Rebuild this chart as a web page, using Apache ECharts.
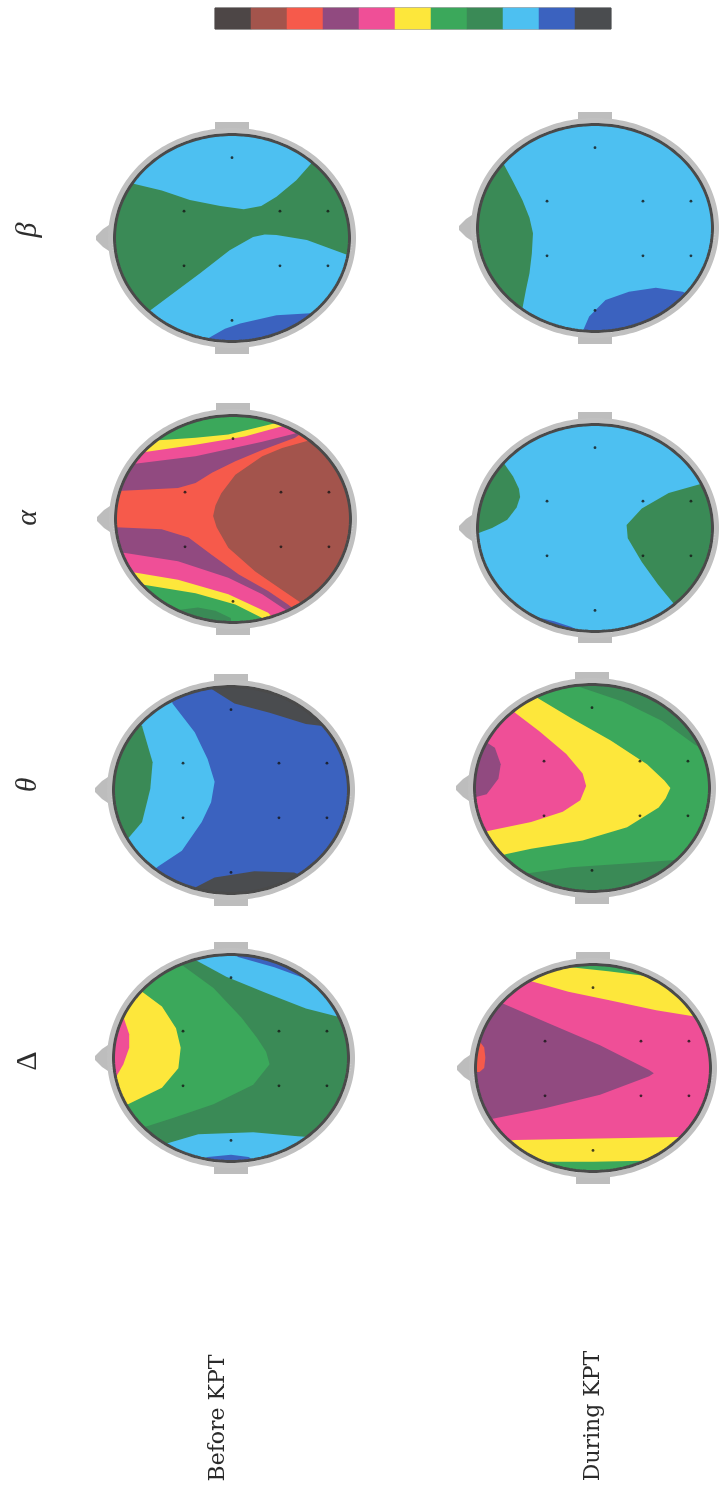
<!DOCTYPE html>
<html>
<head>
<meta charset="utf-8">
<script src="https://cdn.jsdelivr.net/npm/echarts@6/dist/echarts.min.js"></script>
<style>
html,body{margin:0;padding:0;background:#ffffff;}
#chart{width:720px;height:1495px;}
</style>
</head>
<body>
<div id="chart"></div>
<script>
// ---------- DATA ----------
// 11 colour levels of the scale bar (left -> right)
const levelColors = ['#4d4646','#a3544c','#f65a4b','#914a80','#ef4f97','#fde73b','#3ba85b','#3a8a56','#4dc0f1','#3b62bf','#4a4c4f'];
const scaleLevels = [0,1,2,3,4,5,6,7,8,9,10];
const bandSymbols = ['β','α','θ','Δ'];
const conditionLabels = ['Before KPT','During KPT'];
// electrode positions (head coordinates, -1..1)
const electrodeU = [0,-0.41,0.41,0.82,-0.41,0.41,0.82,0];
const electrodeV = [-0.78,-0.26,-0.26,-0.26,0.27,0.27,0.27,0.80];

// contour regions: [level, boundary points (u,v)], painted in order
const FULL = [[-1.2,-1.2],[1.2,-1.2],[1.2,1.2],[-1.2,1.2]];
const betaBefore = [
 [7, FULL],
 [8, [[-1.2,-1.2],[0.85,-1.2],[0.8,-0.95],[0.69,-0.74],[0.55,-0.56],[0.38,-0.40],[0.25,-0.31],[0.1,-0.28],[-0.1,-0.31],[-0.36,-0.37],[-0.6,-0.46],[-0.85,-0.53],[-1.2,-0.62]]],
 [8, [[-0.85,1.2],[-0.85,0.85],[-0.72,0.72],[-0.27,0.34],[-0.02,0.12],[0.18,-0.01],[0.28,-0.035],[0.38,-0.03],[0.64,0.02],[1.0,0.17],[1.2,0.24],[1.2,1.2]]],
 [9, [[-0.4,1.2],[-0.35,1.05],[-0.23,0.99],[-0.06,0.88],[0.07,0.83],[0.38,0.75],[0.67,0.73],[0.9,0.76],[0.9,1.2]]]
];
const betaDuring = [
 [8, FULL],
 [7, [[-1.2,-0.8],[-0.9,-0.8],[-0.79,-0.64],[-0.70,-0.45],[-0.62,-0.27],[-0.56,-0.1],[-0.53,0.05],[-0.54,0.25],[-0.56,0.44],[-0.59,0.6],[-0.62,0.78],[-0.7,0.95],[-1.2,0.95]]],
 [9, [[-0.15,1.2],[-0.15,1.08],[-0.1,0.99],[-0.05,0.86],[0.09,0.70],[0.29,0.62],[0.52,0.58],[0.75,0.62],[0.9,0.7],[0.9,1.2]]]
];
const alphaBefore = [
 [6, FULL],
 [5, [[-0.85,-0.85],[-0.70,-0.76],[-0.32,-0.79],[-0.04,-0.82],[0.36,-0.93],[0.45,-1.1],[1.2,-1.1],[1.2,1.2],[0.3,1.2],[0.25,0.96],[0.02,0.83],[-0.32,0.72],[-0.75,0.64],[-0.9,0.66],[-1.2,0.66],[-1.2,-0.85]]],
 [4, [[-0.95,-0.62],[-0.81,-0.64],[-0.32,-0.72],[0.10,-0.80],[0.42,-0.90],[0.5,-1.05],[1.2,-1.05],[1.2,1.2],[0.38,1.2],[0.38,1.0],[0.30,0.91],[-0.04,0.73],[-0.47,0.59],[-0.84,0.52],[-0.95,0.52],[-1.2,0.52],[-1.2,-0.62]]],
 [3, [[-1.0,-0.5],[-0.89,-0.53],[-0.32,-0.61],[0.25,-0.75],[0.53,-0.83],[0.62,-0.9],[1.2,-0.9],[1.2,1.2],[0.55,1.2],[0.5,0.92],[0.42,0.86],[0.25,0.73],[-0.04,0.57],[-0.47,0.41],[-0.92,0.33],[-1.0,0.32],[-1.2,0.32],[-1.2,-0.5]]],
 [2, [[-1.2,-0.26],[-0.47,-0.30],[-0.32,-0.35],[-0.18,-0.45],[0.02,-0.56],[0.25,-0.67],[0.53,-0.79],[0.62,-0.86],[1.2,-0.86],[1.2,1.2],[0.6,1.2],[0.55,0.9],[0.47,0.83],[0.30,0.70],[0.05,0.54],[-0.18,0.35],[-0.38,0.18],[-0.61,0.10],[-1.2,0.07]]],
 [1, [[-0.10,-0.25],[0.02,-0.43],[0.25,-0.61],[0.42,-0.69],[0.64,-0.76],[0.78,-0.82],[1.2,-0.82],[1.2,0.9],[0.7,0.9],[0.59,0.82],[0.42,0.69],[0.19,0.51],[-0.04,0.28],[-0.14,0.08],[-0.17,-0.03],[-0.15,-0.13]]],
 [7, [[-0.6,1.0],[-0.45,0.88],[-0.3,0.86],[-0.15,0.89],[-0.02,0.96],[0.0,1.1],[-0.6,1.1]]]
];
const alphaDuring = [
 [8, FULL],
 [7, [[-1.2,-0.75],[-0.9,-0.75],[-0.78,-0.63],[-0.70,-0.50],[-0.65,-0.38],[-0.64,-0.30],[-0.67,-0.20],[-0.75,-0.08],[-0.88,0.0],[-1.0,0.05],[-1.2,0.08]]],
 [7, [[1.2,-0.55],[1.0,-0.5],[0.91,-0.43],[0.63,-0.34],[0.40,-0.19],[0.27,-0.03],[0.28,0.10],[0.40,0.33],[0.54,0.55],[0.67,0.73],[0.75,0.85],[1.2,0.85]]],
 [9, [[-0.7,0.8],[-0.62,0.82],[-0.5,0.865],[-0.35,0.905],[-0.2,0.96],[-0.1,1.02],[-0.1,1.2],[-0.7,1.2]]]
];
const thetaBefore = [
 [9, FULL],
 [8, [[-1.2,-1.1],[-0.55,-1.1],[-0.50,-0.84],[-0.31,-0.56],[-0.20,-0.30],[-0.14,-0.08],[-0.17,0.12],[-0.25,0.31],[-0.42,0.59],[-0.62,0.74],[-0.75,0.85],[-1.2,0.85]]],
 [7, [[-1.2,-0.75],[-0.85,-0.75],[-0.76,-0.62],[-0.67,-0.27],[-0.69,-0.01],[-0.76,0.31],[-0.88,0.47],[-1.0,0.55],[-1.2,0.55]]],
 [10, [[-0.25,-1.2],[-0.25,-1.1],[-0.18,-0.99],[0.03,-0.84],[0.33,-0.75],[0.64,-0.64],[0.80,-0.62],[1.0,-0.6],[1.0,-1.2]]],
 [10, [[-0.4,1.2],[-0.4,1.05],[-0.31,0.95],[-0.14,0.85],[0.20,0.79],[0.54,0.80],[0.64,0.85],[0.75,0.95],[0.75,1.2]]]
];
const thetaDuring = [
 [6, FULL],
 [7, [[-0.2,-1.2],[-0.2,-1.02],[-0.08,-0.97],[0.26,-0.84],[0.60,-0.65],[0.88,-0.42],[1.0,-0.35],[1.2,-0.35],[1.2,-1.2]]],
 [7, [[-0.75,1.2],[-0.75,0.88],[-0.56,0.83],[-0.18,0.77],[0.33,0.73],[0.71,0.70],[0.85,0.7],[0.85,1.2]]],
 [5, [[-1.2,-1.0],[-0.55,-1.0],[-0.49,-0.89],[-0.18,-0.68],[0.16,-0.46],[0.47,-0.23],[0.62,-0.07],[0.67,0.0],[0.63,0.1],[0.57,0.19],[0.30,0.38],[-0.08,0.51],[-0.52,0.59],[-0.73,0.64],[-0.85,0.68],[-1.2,0.68]]],
 [4, [[-1.2,-0.85],[-0.75,-0.82],[-0.68,-0.75],[-0.45,-0.55],[-0.22,-0.33],[-0.08,-0.14],[-0.05,-0.02],[-0.10,0.12],[-0.25,0.23],[-0.52,0.33],[-0.86,0.41],[-0.98,0.44],[-1.2,0.44]]],
 [3, [[-1.2,-0.52],[-0.98,-0.50],[-0.83,-0.39],[-0.78,-0.23],[-0.80,-0.09],[-0.90,0.06],[-1.0,0.09],[-1.2,0.09]]]
];
const deltaBefore = [
 [7, FULL],
 [8, [[-0.45,-1.2],[-0.45,-1.08],[-0.32,-0.96],[-0.04,-0.79],[0.30,-0.63],[0.64,-0.48],[0.95,-0.39],[1.2,-0.35],[1.2,-1.2]]],
 [9, [[0.0,-1.2],[0.0,-1.05],[0.06,-0.98],[0.37,-0.88],[0.64,-0.77],[0.76,-0.71],[1.0,-0.65],[1.0,-1.2]]],
 [6, [[-1.2,-1.05],[-0.5,-1.05],[-0.44,-0.92],[-0.15,-0.68],[0.09,-0.39],[0.22,-0.2],[0.30,-0.06],[0.33,0.06],[0.19,0.26],[-0.15,0.45],[-0.49,0.58],[-0.71,0.66],[-0.85,0.7],[-1.2,0.7]]],
 [5, [[-1.2,-0.72],[-0.85,-0.72],[-0.78,-0.66],[-0.59,-0.50],[-0.47,-0.29],[-0.43,-0.10],[-0.45,0.10],[-0.59,0.29],[-0.88,0.45],[-0.98,0.5],[-1.2,0.5]]],
 [4, [[-1.2,-0.42],[-0.92,-0.40],[-0.87,-0.23],[-0.87,-0.10],[-0.92,0.06],[-0.98,0.18],[-1.2,0.18]]],
 [8, [[-0.75,1.2],[-0.75,0.88],[-0.62,0.86],[-0.52,0.82],[-0.28,0.74],[0.19,0.72],[0.57,0.76],[0.69,0.77],[0.85,0.8],[0.85,1.2]]],
 [9, [[-0.35,1.2],[-0.35,1.05],[-0.2,0.96],[0.0,0.94],[0.15,0.96],[0.28,1.05],[0.28,1.2]]]
];
const deltaDuring = [
 [4, FULL],
 [5, [[-0.65,-1.2],[-0.65,-0.92],[-0.52,-0.84],[-0.21,-0.74],[0.13,-0.66],[0.54,-0.56],[0.87,-0.50],[1.0,-0.47],[1.0,-1.2]]],
 [6, [[-0.3,-1.2],[-0.3,-1.04],[-0.21,-0.98],[0.13,-0.94],[0.47,-0.89],[0.65,-0.82],[0.8,-0.8],[0.8,-1.2]]],
 [3, [[-1.2,-0.7],[-0.9,-0.7],[-0.82,-0.65],[-0.41,-0.45],[0.06,-0.22],[0.48,0.02],[0.52,0.05],[0.48,0.08],[0.06,0.26],[-0.41,0.39],[-0.89,0.50],[-1.0,0.53],[-1.2,0.53]]],
 [2, [[-1.1,-0.26],[-0.97,-0.26],[-0.93,-0.2],[-0.92,-0.1],[-0.93,0.0],[-0.97,0.04],[-1.1,0.04]]],
 [5, [[-0.85,1.2],[-0.85,0.73],[-0.67,0.70],[-0.21,0.69],[0.30,0.68],[0.73,0.67],[0.9,0.67],[0.9,1.2]]],
 [6, [[-0.5,1.2],[-0.5,0.93],[-0.41,0.91],[0.0,0.91],[0.44,0.90],[0.55,0.92],[0.55,1.2]]]
];

// ---------- LAYOUT ----------
const headMaps = [betaBefore, betaDuring, alphaBefore, alphaDuring, thetaBefore, thetaDuring, deltaBefore, deltaDuring];
const headCenters = [[232,238],[595,228],[233,519],[595,528],[231,790],[592,788],[231,1058],[593,1068]];
const bandLabelPos = [[28,230],[28,518],[28,785],[28,1061]];
const conditionLabelPos = [[218,1418],[593,1416]];
const GW = 234, GH = 206, MASK_PAD = 42;

function ellipsePts(cx, cy, a, b, n){
  const p = [];
  for (let k = 0; k < n; k++) { const t = 2 * Math.PI * k / n; p.push([cx + a * Math.cos(t), cy + b * Math.sin(t)]); }
  return p;
}
function layerRenderer(layers){
  return function(params, api){
    const L = layers[params.dataIndex];
    const pts = L[1].map(p => api.coord(p));
    return {type: 'polygon', z2: params.dataIndex, shape: {points: pts}, style: {fill: levelColors[L[0]]}};
  };
}
function renderFrame(params, api){
  const cs = params.coordSys;
  const cx = cs.x + cs.width / 2, cy = cs.y + cs.height / 2;
  const RX = cs.width / 2, RY = cs.height / 2;
  const x0 = cs.x - MASK_PAD, x1 = cs.x + cs.width + MASK_PAD, y0 = cs.y - MASK_PAD, y1 = cs.y + cs.height + MASK_PAD;
  const N = 140;
  const top = [[x0, y0], [x1, y0], [x1, cy]];
  const bot = [[x0, y1], [x1, y1], [x1, cy]];
  for (let k = 0; k <= N; k++) {
    const t = Math.PI * k / N;
    top.push([cx + RX * Math.cos(t), cy - RY * Math.sin(t)]);
    bot.push([cx + RX * Math.cos(t), cy + RY * Math.sin(t)]);
  }
  top.push([x0, cy]); bot.push([x0, cy]);
  const grey = '#bdbdbd';
  return {type: 'group', children: [
    {type: 'polygon', shape: {points: top}, style: {fill: '#ffffff'}},
    {type: 'polygon', shape: {points: bot}, style: {fill: '#ffffff'}},
    {type: 'rect', shape: {x: cx - 17, y: cy - RY - 13, width: 34, height: 10}, style: {fill: grey}},
    {type: 'rect', shape: {x: cx - 17, y: cy + RY + 3, width: 34, height: 10}, style: {fill: grey}},
    {type: 'polygon', shape: {points: [[cx - RX - 3, cy - 15], [cx - RX - 12, cy - 9], [cx - RX - 19, cy - 2], [cx - RX - 19, cy + 2], [cx - RX - 12, cy + 9], [cx - RX - 3, cy + 15]]}, style: {fill: grey}},
    {type: 'polygon', shape: {points: ellipsePts(cx, cy, RX + 4.5, RY + 4.5, 220)}, style: {fill: 'none', stroke: '#c0c0c0', lineWidth: 5}},
    {type: 'polygon', shape: {points: ellipsePts(cx, cy, RX + 0.5, RY + 0.5, 220)}, style: {fill: 'none', stroke: '#4a4a4a', lineWidth: 3}}
  ]};
}

const grids = [], xAxes = [], yAxes = [], series = [];
headCenters.forEach((p, i) => {
  grids.push({left: p[0] - GW / 2, top: p[1] - GH / 2, width: GW, height: GH, show: false});
  xAxes.push({type: 'value', gridIndex: i, min: -1, max: 1, show: false});
  yAxes.push({type: 'value', gridIndex: i, min: -1, max: 1, inverse: true, show: false});
});
// colour scale bar (heatmap)
const cb = headCenters.length;
grids.push({left: 215, top: 8, width: 396, height: 21, show: true, borderColor: '#5a5a5a', borderWidth: 1, backgroundColor: 'transparent'});
xAxes.push({type: 'category', gridIndex: cb, data: scaleLevels.map(String), show: false});
yAxes.push({type: 'category', gridIndex: cb, data: ['0'], show: false});
series.push({type: 'heatmap', xAxisIndex: cb, yAxisIndex: cb, data: scaleLevels.map((v, i) => [i, 0, v]), silent: true,
  itemStyle: {borderWidth: 0}, emphasis: {disabled: true}});
// head maps
headMaps.forEach((layers, i) => {
  series.push({type: 'custom', xAxisIndex: i, yAxisIndex: i, data: layers.map(() => [0, 0]),
    renderItem: layerRenderer(layers), silent: true, clip: false, z: 2});
  series.push({type: 'custom', xAxisIndex: i, yAxisIndex: i, data: [[0, 0]],
    renderItem: renderFrame, silent: true, clip: false, z: 10});
  series.push({type: 'scatter', xAxisIndex: i, yAxisIndex: i, data: electrodeU.map((u, k) => [u, electrodeV[k]]),
    symbol: 'circle', symbolSize: 2.8, itemStyle: {color: '#151515'}, silent: true, z: 12});
});

const graphics = [];
bandSymbols.forEach((s, i) => {
  graphics.push({type: 'text', x: bandLabelPos[i][0], y: bandLabelPos[i][1], rotation: Math.PI / 2, z: 20,
    style: {text: s, fill: '#2e2e2e', fontSize: 30, fontFamily: 'Liberation Serif, DejaVu Serif, serif',
      fontStyle: s === 'Δ' ? 'normal' : 'italic', align: 'center', verticalAlign: 'middle', textAlign: 'center', textVerticalAlign: 'middle'}});
});
conditionLabels.forEach((s, i) => {
  graphics.push({type: 'text', x: conditionLabelPos[i][0], y: conditionLabelPos[i][1], rotation: Math.PI / 2, z: 20,
    style: {text: s, fill: '#2a2a2a', fontSize: 22, fontFamily: 'DejaVu Serif, serif',
      align: 'center', verticalAlign: 'middle', textAlign: 'center', textVerticalAlign: 'middle'}});
});

const chart = echarts.init(document.getElementById('chart'), null, {renderer: 'canvas'});
chart.setOption({
  backgroundColor: '#ffffff',
  animation: false,
  grid: grids,
  xAxis: xAxes,
  yAxis: yAxes,
  visualMap: {type: 'piecewise', show: false, dimension: 2, seriesIndex: 0,
    pieces: levelColors.map((c, i) => ({value: i, color: c}))},
  series: series,
  graphic: graphics
});
</script>
</body>
</html>
